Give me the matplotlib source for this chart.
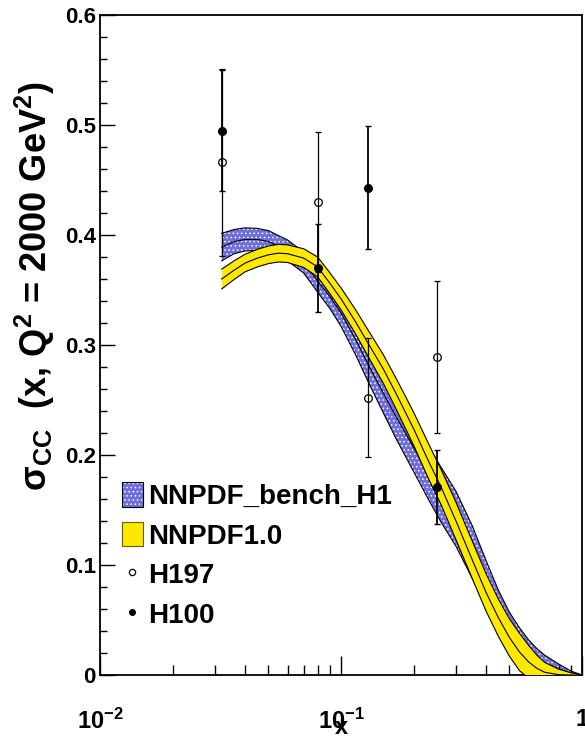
import matplotlib
matplotlib.use("Agg")
import matplotlib.pyplot as plt
from matplotlib.patches import Patch
from matplotlib.lines import Line2D
from matplotlib.ticker import MultipleLocator, LogLocator, NullFormatter
import numpy as np

plt.rcParams['font.family'] = 'Liberation Sans'
plt.rcParams['font.weight'] = 'bold'
plt.rcParams['axes.labelweight'] = 'bold'
plt.rcParams['mathtext.fontset'] = 'custom'
plt.rcParams['mathtext.rm'] = 'Liberation Sans:bold'
plt.rcParams['mathtext.bf'] = 'Liberation Sans:bold'
plt.rcParams['mathtext.it'] = 'Liberation Sans:bold'
plt.rcParams['mathtext.sf'] = 'Liberation Sans:bold'
plt.rcParams['mathtext.default'] = 'bf'
plt.rcParams['hatch.linewidth'] = 0.6

x_grid = [0.032, 0.036, 0.04, 0.045, 0.05, 0.055, 0.06, 0.07, 0.08, 0.09,
          0.1, 0.115, 0.13, 0.15, 0.17, 0.2, 0.23, 0.26, 0.3, 0.35,
          0.4, 0.45, 0.5, 0.55, 0.6, 0.65, 0.7, 0.8, 0.9, 1.0]

# NNPDF_bench_H1 (blue band): central value and half width
bench_mid = [0.389, 0.394, 0.396, 0.396, 0.394, 0.390, 0.386, 0.375, 0.358, 0.344,
             0.329, 0.305, 0.282, 0.256, 0.234, 0.207, 0.184, 0.164, 0.142, 0.112,
             0.083, 0.060, 0.043, 0.031, 0.022, 0.016, 0.011, 0.0055, 0.0018, 0.0]
bench_err = [0.0125, 0.011, 0.0105, 0.010, 0.010, 0.0095, 0.0095, 0.0095, 0.010, 0.011,
             0.012, 0.014, 0.016, 0.018, 0.020, 0.022, 0.024, 0.025, 0.025, 0.024,
             0.021, 0.017, 0.014, 0.012, 0.010, 0.008, 0.007, 0.0045, 0.0018, 0.0]

# NNPDF1.0 (yellow band): central value and half width
nnpdf_mid = [0.360, 0.368, 0.3745, 0.379, 0.382, 0.3835, 0.383, 0.379, 0.371, 0.356,
             0.342, 0.321, 0.301, 0.278, 0.255, 0.224, 0.195, 0.171, 0.140, 0.105,
             0.075, 0.052, 0.034, 0.021, 0.012, 0.006, 0.0025, 0.0003, 0.0, 0.0]
nnpdf_err = [0.009, 0.0085, 0.008, 0.008, 0.008, 0.008, 0.008, 0.0085, 0.009, 0.0095,
             0.010, 0.011, 0.012, 0.013, 0.014, 0.015, 0.016, 0.016, 0.017, 0.017,
             0.017, 0.017, 0.017, 0.017, 0.015, 0.012, 0.009, 0.005, 0.002, 0.0]

# data points
x_data = [0.032, 0.08, 0.13, 0.25]
h197_y = [0.466, 0.430, 0.252, 0.289]
h197_err = [0.085, 0.064, 0.054, 0.069]
h100_y = [0.495, 0.370, 0.443, 0.171]
h100_err = [0.055, 0.040, 0.056, 0.034]

blue = '#6e6edc'
yellow = '#ffe800'

fig = plt.figure(figsize=(5.85, 7.36), dpi=100)
ax = fig.add_axes([100/585, 61/736, 482/585, 660/736])

xg = np.array(x_grid)
bm, be = np.array(bench_mid), np.array(bench_err)
nm, ne = np.array(nnpdf_mid), np.array(nnpdf_err)

# blue band, white dotted pattern
ax.fill_between(xg, bm - be, bm + be, facecolor=blue, edgecolor='white',
                hatch='....', linewidth=0, zorder=1)
for yy in (bm - be, bm, bm + be):
    ax.plot(xg, yy, color='black', lw=0.8, zorder=2)

# yellow band
ax.fill_between(xg, nm - ne, nm + ne, facecolor=yellow, linewidth=0, zorder=3)
for yy in (nm - ne, nm, nm + ne):
    ax.plot(xg, yy, color='black', lw=0.8, zorder=4)

ax.errorbar(x_data, h197_y, yerr=h197_err, fmt='o', mfc='none', mec='black',
            ms=5.5, mew=0.9, color='black', elinewidth=0.9, capsize=2.5,
            capthick=0.9, zorder=5)
ax.errorbar(x_data, h100_y, yerr=h100_err, fmt='o', color='black', ms=5.5,
            elinewidth=1.3, capsize=2.5, capthick=1.0, zorder=6)

ax.set_xscale('log')
ax.set_xlim(0.01, 1)
ax.set_ylim(0, 0.6)

ax.set_yticks([0, 0.1, 0.2, 0.3, 0.4, 0.5, 0.6])
ax.set_yticklabels(['0', '0.1', '0.2', '0.3', '0.4', '0.5', '0.6'])
ax.yaxis.set_minor_locator(MultipleLocator(0.02))
ax.tick_params(axis='y', which='major', direction='in', length=10.8, width=1,
               labelsize=16, pad=3)
ax.tick_params(axis='y', which='minor', direction='in', length=5, width=1)

ax.set_xticks([0.01, 0.1, 1])
ax.set_xticklabels([r'$10^{-2}$', r'$10^{-1}$', r'$1$'])
ax.xaxis.set_minor_locator(LogLocator(base=10, subs=np.arange(2, 10)))
ax.xaxis.set_minor_formatter(NullFormatter())
ax.tick_params(axis='x', which='major', direction='in', length=13.7, width=1,
               labelsize=17, pad=24)
ax.tick_params(axis='x', which='minor', direction='in', length=7.2, width=1)

for s in ax.spines.values():
    s.set_linewidth(1.3)

ax.set_xlabel('x', fontsize=17, va='center')
ax.xaxis.set_label_coords(0.5, -(728 - 675) / 660)
ax.set_ylabel(r'$\sigma_{CC}$  (x, Q$^{2}$ = 2000 GeV$^{2}$)', fontsize=26)
ax.yaxis.set_label_coords((57 - 100) / 482, (675 - 286) / 660)

handles = [(Patch(facecolor=blue, edgecolor='white', hatch='....', lw=0),
            Patch(facecolor='none', edgecolor='black', lw=0.8)),
           Patch(facecolor=yellow, edgecolor='#6b5a00', lw=0.8),
           Line2D([], [], ls='none', marker='o', mfc='none', mec='black', ms=4.5, mew=0.9),
           Line2D([], [], ls='none', marker='o', color='black', ms=4)]
labels = ['NNPDF_bench_H1', 'NNPDF1.0', 'H197', 'H100']
ax.legend(handles, labels, loc='upper left',
          bbox_to_anchor=((122 - 100) / 482, (675 - 482) / 660),
          borderpad=0, borderaxespad=0, handlelength=0.75, handleheight=1.0,
          handletextpad=0.2, labelspacing=0.42, fontsize=20, frameon=False)

fig.savefig('out.png', dpi=100)
